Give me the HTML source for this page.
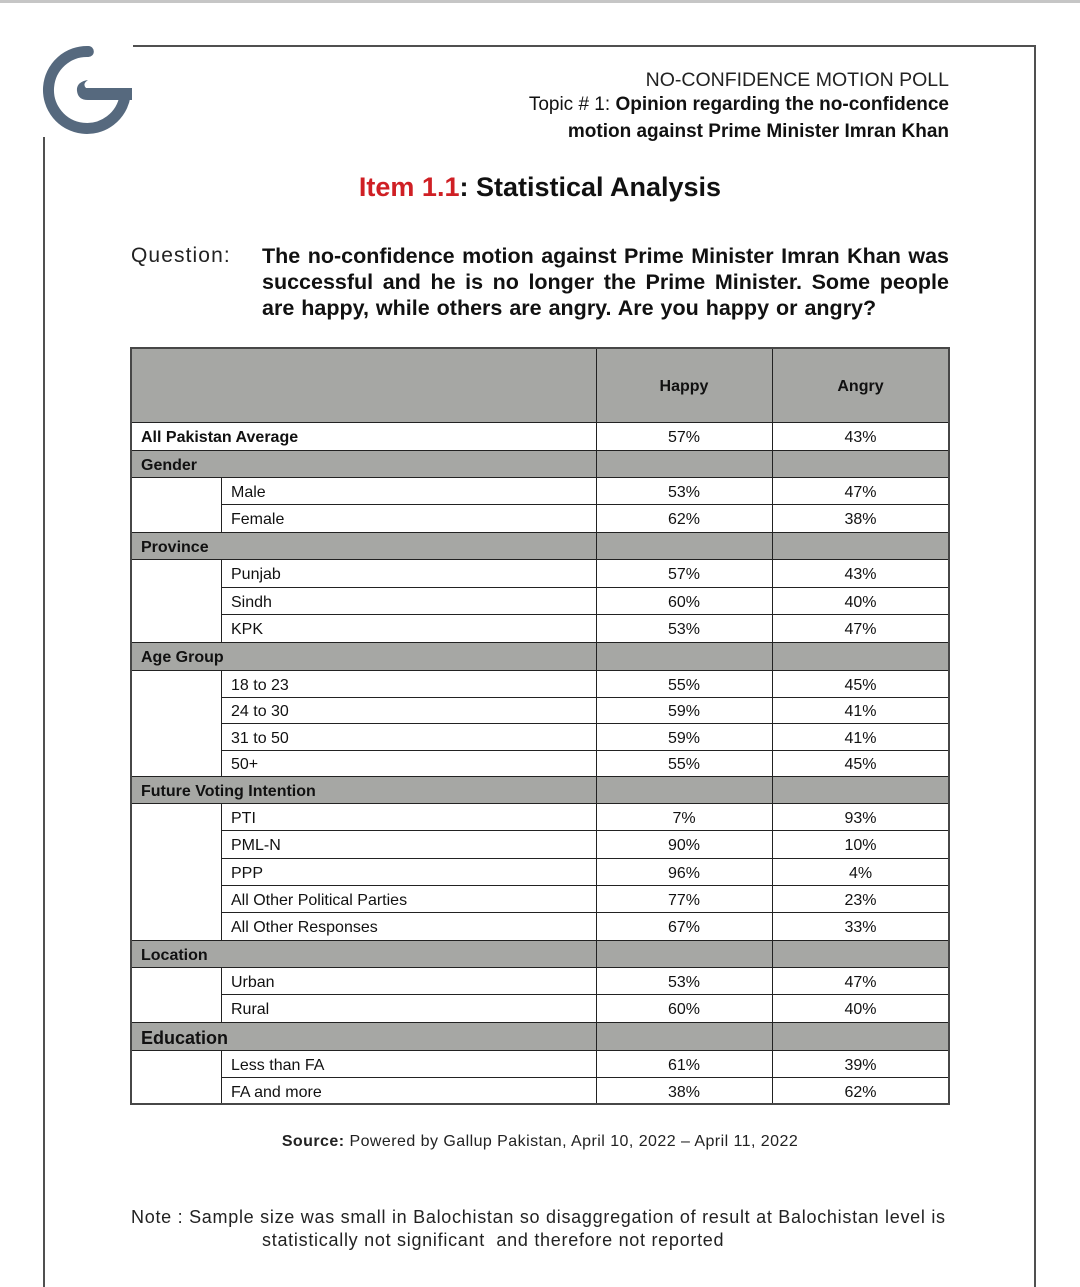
<!DOCTYPE html>
<html>
<head>
<meta charset="utf-8">
<style>
*{margin:0;padding:0;box-sizing:border-box;}
html,body{width:1080px;height:1287px;background:#fff;overflow:hidden;}
body{position:relative;font-family:"Liberation Sans",Arial,sans-serif;color:#111;}
.abs{position:absolute;}
.topbar{left:0;top:0;width:1080px;height:3px;background:#c6c6c6;}
.ln{position:absolute;background:#505050;}
.t1{right:131px;top:68px;font-size:19.5px;color:#222;white-space:nowrap;line-height:24px;}
.t2{right:131px;top:93px;font-size:19px;color:#111;white-space:nowrap;line-height:24px;}
.t3{right:131px;top:120px;font-size:19px;color:#111;white-space:nowrap;line-height:24px;font-weight:bold;}
.item{left:0;width:1080px;top:170px;text-align:center;font-size:27px;font-weight:bold;line-height:34px;color:#111;}
.item .red{color:#cf1f24;}
.q{left:131px;top:242px;font-size:21px;letter-spacing:1.1px;line-height:28px;color:#222;}
.ql{left:262px;width:687px;font-size:21.5px;font-weight:bold;line-height:26px;white-space:nowrap;color:#111;}
.just{text-align:justify;text-align-last:justify;}
#tbl{position:absolute;left:131px;top:348px;width:818px;height:756px;}
.r{position:absolute;left:0;width:818px;font-size:16px;}
.r span{position:absolute;top:2px;white-space:nowrap;}
.g{background:#a6a7a4;}
.c{left:10px;font-weight:bold;}
.s{left:100px;}
.h{left:465px;width:176px;text-align:center;}
.a{left:641px;width:177px;text-align:center;}
.hl{position:absolute;left:0;width:818px;height:1px;background:#222;}
.hs{position:absolute;left:90px;width:728px;height:1px;background:#222;}
.vl{position:absolute;width:1px;background:#222;}
.frame{position:absolute;left:-1px;top:-1px;width:820px;height:758px;border:2px solid #474747;}
.src{left:0;width:1080px;top:1132px;text-align:center;font-size:16px;letter-spacing:0.45px;line-height:20px;color:#222;}
.note{left:131px;top:1206px;font-size:18px;letter-spacing:0.72px;line-height:23px;color:#222;white-space:nowrap;}
</style>
</head>
<body>
<div class="abs topbar"></div>
<!-- page frame lines -->
<div class="ln" style="left:133px;top:45px;width:903px;height:2px;"></div>
<div class="ln" style="left:1034px;top:45px;width:2px;height:1242px;"></div>
<div class="ln" style="left:43px;top:137px;width:2px;height:1150px;"></div>

<!-- logo -->
<svg class="abs" style="left:0;top:0;" width="150" height="150" viewBox="0 0 150 150">
  <path d="M 88.3 51.5 A 38.5 38.5 0 1 0 125 96" fill="none" stroke="#56697e" stroke-width="11" stroke-linecap="round"/>
  <path d="M 132 88 L 86 88 Q 82 84 88 80 Q 76 82 77 91 Q 78 100 88 100 L 131 100 Z" fill="#56697e"/>
  <rect x="120" y="88" width="12" height="12" fill="#56697e"/>
</svg>

<div class="abs t1">NO-CONFIDENCE MOTION POLL</div>
<div class="abs t2">Topic # 1: <b>Opinion regarding the no-confidence</b></div>
<div class="abs t3">motion against Prime Minister Imran Khan</div>

<div class="abs item"><span class="red">Item 1.1</span>: Statistical Analysis</div>

<div class="abs q">Question:</div>
<div class="abs ql just" style="top:243px;">The no-confidence motion against Prime Minister Imran Khan was</div>
<div class="abs ql just" style="top:269px;">successful and he is no longer the Prime Minister. Some people</div>
<div class="abs ql" style="top:295px;word-spacing:1px;">are happy, while others are angry. Are you happy or angry?</div>

<div id="tbl">
  <div class="r g" style="top:0;height:74px;line-height:74px;font-weight:bold;"><span class="h">Happy</span><span class="a">Angry</span></div>
  <div class="r" style="top:74px;height:28px;line-height:28px;"><span class="c">All Pakistan Average</span><span class="h">57%</span><span class="a">43%</span></div>
  <div class="r g" style="top:102px;height:27px;line-height:27px;"><span class="c">Gender</span></div>
  <div class="r" style="top:129px;height:27px;line-height:27px;"><span class="s">Male</span><span class="h">53%</span><span class="a">47%</span></div>
  <div class="r" style="top:156px;height:28px;line-height:28px;"><span class="s">Female</span><span class="h">62%</span><span class="a">38%</span></div>
  <div class="r g" style="top:184px;height:27px;line-height:27px;"><span class="c">Province</span></div>
  <div class="r" style="top:211px;height:28px;line-height:28px;"><span class="s">Punjab</span><span class="h">57%</span><span class="a">43%</span></div>
  <div class="r" style="top:239px;height:27px;line-height:27px;"><span class="s">Sindh</span><span class="h">60%</span><span class="a">40%</span></div>
  <div class="r" style="top:266px;height:28px;line-height:28px;"><span class="s">KPK</span><span class="h">53%</span><span class="a">47%</span></div>
  <div class="r g" style="top:294px;height:28px;line-height:28px;"><span class="c">Age Group</span></div>
  <div class="r" style="top:322px;height:27px;line-height:27px;"><span class="s">18 to 23</span><span class="h">55%</span><span class="a">45%</span></div>
  <div class="r" style="top:349px;height:26px;line-height:26px;"><span class="s">24 to 30</span><span class="h">59%</span><span class="a">41%</span></div>
  <div class="r" style="top:375px;height:27px;line-height:27px;"><span class="s">31 to 50</span><span class="h">59%</span><span class="a">41%</span></div>
  <div class="r" style="top:402px;height:26px;line-height:26px;"><span class="s">50+</span><span class="h">55%</span><span class="a">45%</span></div>
  <div class="r g" style="top:428px;height:27px;line-height:27px;"><span class="c">Future Voting Intention</span></div>
  <div class="r" style="top:455px;height:27px;line-height:27px;"><span class="s">PTI</span><span class="h">7%</span><span class="a">93%</span></div>
  <div class="r" style="top:482px;height:28px;line-height:28px;"><span class="s">PML-N</span><span class="h">90%</span><span class="a">10%</span></div>
  <div class="r" style="top:510px;height:27px;line-height:27px;"><span class="s">PPP</span><span class="h">96%</span><span class="a">4%</span></div>
  <div class="r" style="top:537px;height:27px;line-height:27px;"><span class="s">All Other Political Parties</span><span class="h">77%</span><span class="a">23%</span></div>
  <div class="r" style="top:564px;height:28px;line-height:28px;"><span class="s">All Other Responses</span><span class="h">67%</span><span class="a">33%</span></div>
  <div class="r g" style="top:592px;height:27px;line-height:27px;"><span class="c">Location</span></div>
  <div class="r" style="top:619px;height:27px;line-height:27px;"><span class="s">Urban</span><span class="h">53%</span><span class="a">47%</span></div>
  <div class="r" style="top:646px;height:28px;line-height:28px;"><span class="s">Rural</span><span class="h">60%</span><span class="a">40%</span></div>
  <div class="r g" style="top:674px;height:28px;line-height:28px;"><span class="c" style="font-size:18px;">Education</span></div>
  <div class="r" style="top:702px;height:27px;line-height:27px;"><span class="s">Less than FA</span><span class="h">61%</span><span class="a">39%</span></div>
  <div class="r" style="top:729px;height:27px;line-height:27px;"><span class="s">FA and more</span><span class="h">38%</span><span class="a">62%</span></div>

  <!-- full horizontal lines -->
  <div class="hl" style="top:74px;"></div>
  <div class="hl" style="top:102px;"></div>
  <div class="hl" style="top:129px;"></div>
  <div class="hl" style="top:184px;"></div>
  <div class="hl" style="top:211px;"></div>
  <div class="hl" style="top:294px;"></div>
  <div class="hl" style="top:322px;"></div>
  <div class="hl" style="top:428px;"></div>
  <div class="hl" style="top:455px;"></div>
  <div class="hl" style="top:592px;"></div>
  <div class="hl" style="top:619px;"></div>
  <div class="hl" style="top:674px;"></div>
  <div class="hl" style="top:702px;"></div>
  <!-- sub horizontal lines -->
  <div class="hs" style="top:156px;"></div>
  <div class="hs" style="top:239px;"></div>
  <div class="hs" style="top:266px;"></div>
  <div class="hs" style="top:349px;"></div>
  <div class="hs" style="top:375px;"></div>
  <div class="hs" style="top:402px;"></div>
  <div class="hs" style="top:482px;"></div>
  <div class="hs" style="top:510px;"></div>
  <div class="hs" style="top:537px;"></div>
  <div class="hs" style="top:564px;"></div>
  <div class="hs" style="top:646px;"></div>
  <div class="hs" style="top:729px;"></div>
  <!-- vertical lines -->
  <div class="vl" style="left:465px;top:0;height:756px;"></div>
  <div class="vl" style="left:641px;top:0;height:756px;"></div>
  <div class="vl" style="left:90px;top:129px;height:55px;"></div>
  <div class="vl" style="left:90px;top:211px;height:83px;"></div>
  <div class="vl" style="left:90px;top:322px;height:106px;"></div>
  <div class="vl" style="left:90px;top:455px;height:137px;"></div>
  <div class="vl" style="left:90px;top:619px;height:55px;"></div>
  <div class="vl" style="left:90px;top:702px;height:54px;"></div>
  <div class="frame"></div>
</div>

<div class="abs src"><b>Source:</b> Powered by Gallup Pakistan, April 10, 2022 – April 11, 2022</div>

<div class="abs note">Note : Sample size was small in Balochistan so disaggregation of result at Balochistan level is</div>
<div class="abs note" style="left:262px;top:1229px;">statistically not significant&nbsp; and therefore not reported</div>
</body>
</html>
